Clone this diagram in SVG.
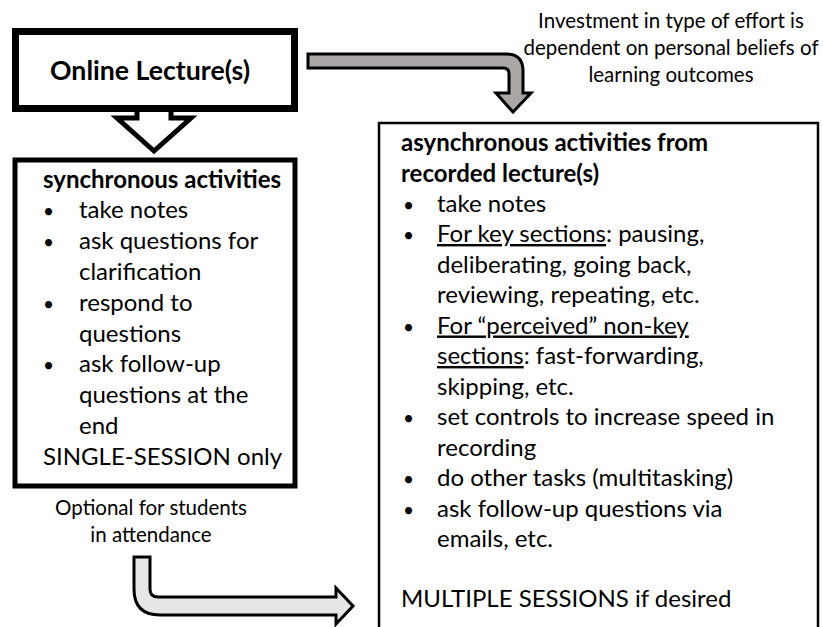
<svg xmlns="http://www.w3.org/2000/svg" width="823" height="627" viewBox="0 0 823 627">
<style>
  text { font-family: Lato, "Liberation Sans", sans-serif; fill: #000; }
  .body { font-size: 24px; }
  .bullet { font-size: 19px; }
  .bold { font-size: 24px; font-weight: bold; }
  .title { font-size: 26.7px; font-weight: bold; }
  .note { font-size: 20.5px; }
  .u { text-decoration: underline; }
</style>
<rect width="823" height="627" fill="#fff"/>

<g id="connectors">
  <path id="arrow-down" d="M137 110 L137 118 L117 118 L154 151 L191 118 L171 118 L171 110" fill="#fff" stroke="#000" stroke-width="5" stroke-linejoin="miter"/>
  <path id="arrow-gray" d="M308 54 L506 54 Q523 54 523 71 L523 93 L531 93 L513 112 L496 93 L509 93 L509 74 Q509 68 503 68 L308 68 Z" fill="#ABA7A6" stroke="#000" stroke-width="3" stroke-linejoin="miter"/>
  <path id="arrow-light" d="M134 557 L150 557 L150 589 Q150 597 158 597 L336 597 L336 588 L353 606 L336 624 L336 615 L160 615 Q134 615 134 589 Z" fill="#E6E6E6" stroke="#000" stroke-width="3" stroke-linejoin="miter"/>
</g>

<g id="online-lecture">
  <rect x="15.5" y="31.5" width="279" height="77" fill="#fff" stroke="#000" stroke-width="7"/>
  <text class="title" x="150" y="80" text-anchor="middle">Online Lecture(s)</text>
</g>

<g id="synchronous">
  <rect x="15" y="160" width="280" height="326" fill="#fff" stroke="#000" stroke-width="5"/>
  <text class="bold" x="43" y="187.5">synchronous activities</text>
  <text class="bullet" x="43" y="218">•</text>
  <text class="body" x="79" y="218">take notes</text>
  <text class="bullet" x="43" y="249">•</text>
  <text class="body" x="79" y="249">ask questions for</text>
  <text class="body" x="79" y="280">clarification</text>
  <text class="bullet" x="43" y="311">•</text>
  <text class="body" x="79" y="311">respond to</text>
  <text class="body" x="79" y="341.5">questions</text>
  <text class="bullet" x="43" y="372">•</text>
  <text class="body" x="79" y="372">ask follow-up</text>
  <text class="body" x="79" y="403">questions at the</text>
  <text class="body" x="79" y="434">end</text>
  <text class="body" x="43" y="465">SINGLE-SESSION only</text>
</g>

<g id="asynchronous">
  <rect x="379" y="123" width="439" height="520" fill="#fff" stroke="#000" stroke-width="2.5"/>
  <text class="bold" x="401" y="151">asynchronous activities from</text>
  <text class="bold" x="401" y="181.5">recorded lecture(s)</text>
  <text class="bullet" x="403" y="212">•</text>
  <text class="body" x="437" y="212">take notes</text>
  <text class="bullet" x="403" y="242">•</text>
  <text class="body" x="437" y="242"><tspan class="u">For key sections</tspan>: pausing,</text>
  <text class="body" x="437" y="272.5">deliberating, going back,</text>
  <text class="body" x="437" y="303">reviewing, repeating, etc.</text>
  <text class="bullet" x="403" y="333.5">•</text>
  <text class="body" x="437" y="333.5"><tspan class="u">For “perceived” non-key</tspan></text>
  <text class="body" x="437" y="364"><tspan class="u">sections</tspan>: fast-forwarding,</text>
  <text class="body" x="437" y="394.5">skipping, etc.</text>
  <text class="bullet" x="403" y="425">•</text>
  <text class="body" x="437" y="425">set controls to increase speed in</text>
  <text class="body" x="437" y="455.5">recording</text>
  <text class="bullet" x="403" y="486">•</text>
  <text class="body" x="437" y="486">do other tasks (multitasking)</text>
  <text class="bullet" x="403" y="516.5">•</text>
  <text class="body" x="437" y="516.5">ask follow-up questions via</text>
  <text class="body" x="437" y="547">emails, etc.</text>
  <text class="body" x="401" y="607">MULTIPLE SESSIONS if desired</text>
</g>

<g id="label-investment">
  <text class="note" x="671" y="28" text-anchor="middle">Investment in type of effort is</text>
  <text class="note" x="671" y="55" text-anchor="middle">dependent on personal beliefs of</text>
  <text class="note" x="671" y="81.5" text-anchor="middle">learning outcomes</text>
</g>

<g id="label-optional">
  <text class="note" x="151" y="515" text-anchor="middle">Optional for students</text>
  <text class="note" x="151" y="541.5" text-anchor="middle">in attendance</text>
</g>
</svg>
